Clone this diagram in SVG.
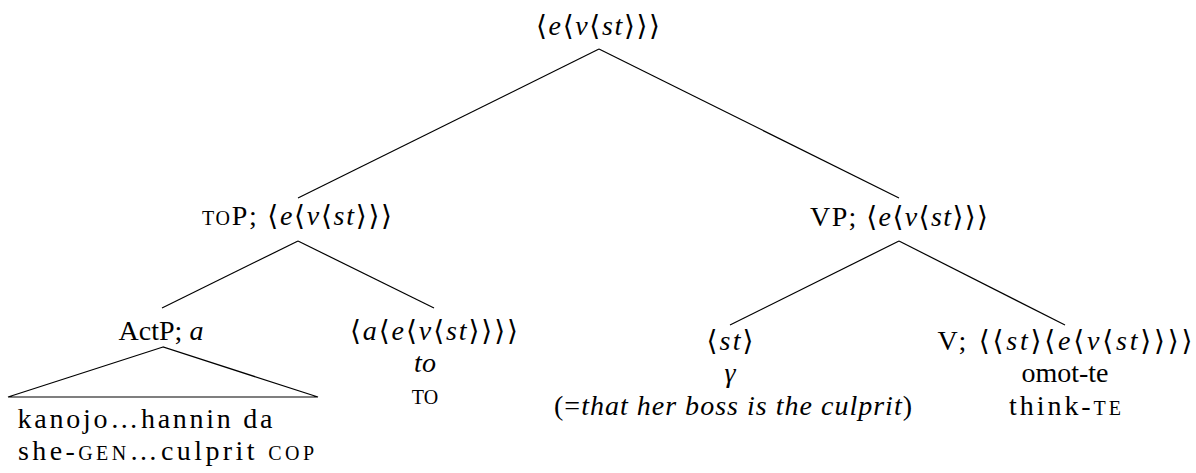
<svg xmlns="http://www.w3.org/2000/svg" width="1196" height="473" viewBox="0 0 1196 473">
<style>
text{fill:#000;text-anchor:middle}
.i{font-style:italic}
.sc{font-variant:small-caps}
.e line,.e path{stroke:#000;stroke-width:1.2;fill:none}
</style>
<rect width="1196" height="473" fill="#fff"/>
<g id="connectors" class="e">
<line x1="599" y1="49" x2="298" y2="198"/>
<line x1="599" y1="49" x2="899" y2="198"/>
<line x1="298" y1="241" x2="162" y2="308"/>
<line x1="298" y1="241" x2="434" y2="308"/>
<line x1="899" y1="241" x2="730" y2="325"/>
<line x1="899" y1="241" x2="1065" y2="325"/>
<path d="M163,347 L8,397 L318,397 Z"/>
</g>
<g font-family="'Liberation Serif', 'DejaVu Serif', serif" font-size="28">
<g id="root"><text x="598" y="35" textLength="124" lengthAdjust="spacing">⟨<tspan class="i">e</tspan>⟨<tspan class="i">v</tspan>⟨<tspan class="i">st</tspan>⟩⟩⟩</text></g>
<g id="topP"><text x="297" y="225" textLength="190" lengthAdjust="spacing"><tspan class="sc">to</tspan>P; ⟨<tspan class="i">e</tspan>⟨<tspan class="i">v</tspan>⟨<tspan class="i">st</tspan>⟩⟩⟩</text></g>
<g id="vp"><text x="899" y="226" textLength="178" lengthAdjust="spacing">VP; ⟨<tspan class="i">e</tspan>⟨<tspan class="i">v</tspan>⟨<tspan class="i">st</tspan>⟩⟩⟩</text></g>
<g id="actp">
<text x="161" y="340">ActP; <tspan class="i">a</tspan></text>
<text x="145" y="428" textLength="255" lengthAdjust="spacing">kanojo…hannin da</text>
<text x="166" y="460" textLength="296" lengthAdjust="spacing">she-<tspan class="sc">gen</tspan>…culprit <tspan class="sc">cop</tspan></text>
</g>
<g id="to">
<text x="434" y="340" textLength="168" lengthAdjust="spacing">⟨<tspan class="i">a</tspan>⟨<tspan class="i">e</tspan>⟨<tspan class="i">v</tspan>⟨<tspan class="i">st</tspan>⟩⟩⟩⟩</text>
<text x="425" y="372" class="i">to</text>
<text x="425" y="404" class="sc">to</text>
</g>
<g id="gamma">
<text x="730" y="350" textLength="47" lengthAdjust="spacing">⟨<tspan class="i">st</tspan>⟩</text>
<text x="730" y="382" class="i">γ</text>
<text x="733" y="415" textLength="358" lengthAdjust="spacing">(=<tspan class="i">that her boss is the culprit</tspan>)</text>
</g>
<g id="v">
<text x="1065" y="350" textLength="255" lengthAdjust="spacing">V; ⟨⟨<tspan class="i">st</tspan>⟩⟨<tspan class="i">e</tspan>⟨<tspan class="i">v</tspan>⟨<tspan class="i">st</tspan>⟩⟩⟩⟩</text>
<text x="1065" y="382">omot-te</text>
<text x="1065" y="415" textLength="112" lengthAdjust="spacing">think-<tspan class="sc">te</tspan></text>
</g>
</g>
</svg>
